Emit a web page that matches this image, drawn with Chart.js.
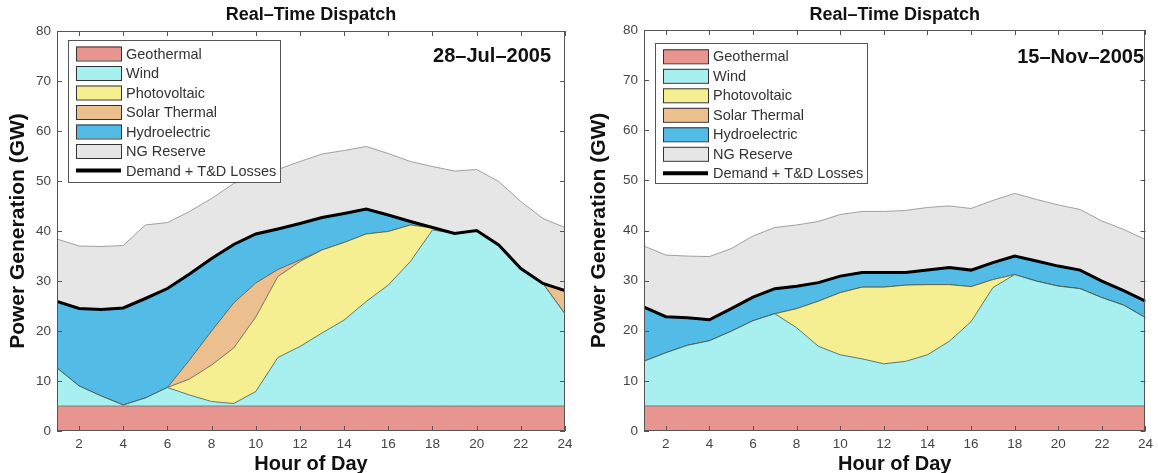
<!DOCTYPE html>
<html>
<head>
<meta charset="utf-8">
<script src="https://cdn.jsdelivr.net/npm/chart.js@4/dist/chart.umd.min.js"></script>
<style>
  body { margin: 0; background: #fff; }
  canvas { position: absolute; top: 0; }
</style>
</head>
<body>
<canvas id="julChart" width="580" height="473" style="left:0"></canvas>
<canvas id="novChart" width="578" height="473" style="left:580px"></canvas>
<script>
// heures de la journée
const hours = [1,2,3,4,5,6,7,8,9,10,11,12,13,14,15,16,17,18,19,20,21,22,23,24];
const xTicks = [2,4,6,8,10,12,14,16,18,20,22,24];
const yTicks = [0,10,20,30,40,50,60,70,80];

const seriesNames = ['Geothermal','Wind','Photovoltaic','Solar Thermal','Hydroelectric','NG Reserve'];
const demandName = 'Demand + T&D Losses';

// 28-Jul-2005 : limites supérieures cumulées (GW)
const julGeo   = [5,5,5,5,5,5,5,5,5,5,5,5,5,5,5,5,5,5,5,5,5,5,5,5];
const julWind  = [12.6,9,7,5.2,6.6,8.7,7.2,5.9,5.5,7.9,14.7,16.9,19.6,22.2,25.9,29.2,33.9,40.2,39.5,40.1,37.2,32.5,29.5,23.4];
const julPV    = [12.6,9,7,5.2,6.6,8.7,10.4,13.2,16.6,22.8,30.9,33.9,36.2,37.7,39.4,39.9,41.2,40.6,39.5,40.1,37.2,32.5,29.5,23.4];
const julSolar = [12.6,9,7,5.2,6.6,8.7,14.2,20,25.6,29.6,32.3,34.2,36.2,37.7,39.4,39.9,41.2,40.6,39.5,40.1,37.2,32.5,29.5,28.1];
const julDemand = [25.9,24.5,24.3,24.6,26.5,28.5,31.4,34.5,37.3,39.4,40.4,41.5,42.7,43.5,44.4,43.2,41.9,40.7,39.5,40.1,37.2,32.5,29.5,28.1];
const julNG    = [38.4,37,36.9,37.1,41.2,41.7,43.9,46.5,49.5,51,52.3,53.9,55.4,56.1,56.9,55.5,53.9,52.9,52,52.3,49.9,45.9,42.5,40.7];

// 15-Nov-2005
const novGeo   = [5,5,5,5,5,5,5,5,5,5,5,5,5,5,5,5,5,5,5,5,5,5,5,5];
const novWind  = [13.9,15.6,17.1,18,19.9,22,23.4,20.6,16.9,15.2,14.4,13.4,13.9,15.2,17.9,21.8,28.6,31.2,29.9,28.9,28.4,26.6,25.1,22.6];
const novPV    = [13.9,15.6,17.1,18,19.9,22,23.4,24.4,25.9,27.6,28.7,28.7,29.1,29.2,29.2,28.8,30.2,31.2,29.9,28.9,28.4,26.6,25.1,22.6];
const novSolar = novPV;
const novDemand = [24.7,22.8,22.6,22.2,24.4,26.7,28.4,28.9,29.6,30.9,31.6,31.6,31.6,32.1,32.6,32.1,33.6,34.9,33.9,32.9,32.1,29.9,28,25.9];
const novNG    = [36.9,35.1,34.9,34.8,36.4,38.9,40.6,41.1,41.8,43.2,43.8,43.8,44,44.6,44.9,44.4,46,47.4,46.2,45.1,44.2,41.9,40.2,38.2];

const fillColors = ['#e8948f','#a8f0f0','#f5ef92','#ecbf8e','#52bbe6','#e6e6e6'];
const edgeColors = ['#6a6a6a','#3c5a5a','#5a5a3c','#5a4a3a','#1f4a5e','#8c8c8c'];
const fontName = '"Liberation Sans", Arial, Helvetica, sans-serif';

// cadre façon MATLAB + titre + légende + date
const framePlugin = {
    id: 'frame',
    afterDatasetsDraw(chart, args, opts) {
        const { ctx, chartArea: a, scales: { x, y } } = chart;
        ctx.save();
        ctx.strokeStyle = '#555';
        ctx.lineWidth = 1;
        ctx.strokeRect(Math.round(a.left) + 0.5, Math.round(a.top) + 0.5, Math.round(a.width) - 1, Math.round(a.height) - 1);
        ctx.beginPath();
        xTicks.forEach(v => {
            const px = Math.round(x.getPixelForValue(v)) + 0.5;
            ctx.moveTo(px, a.bottom); ctx.lineTo(px, a.bottom - 5);
            ctx.moveTo(px, a.top); ctx.lineTo(px, a.top + 5);
        });
        yTicks.forEach(v => {
            const py = Math.round(y.getPixelForValue(v)) + 0.5;
            ctx.moveTo(a.left, py); ctx.lineTo(a.left + 5, py);
            ctx.moveTo(a.right, py); ctx.lineTo(a.right - 5, py);
        });
        ctx.stroke();

        // titre centré sur la zone du graphique
        ctx.font = 'bold 18px ' + fontName;
        ctx.fillStyle = '#111';
        ctx.textAlign = 'center';
        ctx.textBaseline = 'middle';
        ctx.fillText('Real\u2013Time Dispatch', (a.left + a.right) / 2, opts.titleY);

        // légende
        const L = opts.legend;
        ctx.fillStyle = '#fff';
        ctx.fillRect(L.x, L.y, L.w, L.h);
        ctx.strokeStyle = '#555';
        ctx.strokeRect(L.x + 0.5, L.y + 0.5, L.w, L.h);
        ctx.font = '14.5px ' + fontName;
        ctx.textAlign = 'left';
        const labels = seriesNames.concat([demandName]);
        labels.forEach((name, i) => {
            const cy = L.row0 + i * L.gap;
            if (i < seriesNames.length) {
                ctx.fillStyle = fillColors[i];
                ctx.fillRect(L.sx, cy - 7, L.sw, 14);
                ctx.strokeStyle = '#333';
                ctx.strokeRect(L.sx + 0.5, cy - 7 + 0.5, L.sw, 14);
            } else {
                ctx.strokeStyle = '#000';
                ctx.lineWidth = 4;
                ctx.beginPath();
                ctx.moveTo(L.sx, cy); ctx.lineTo(L.sx + L.sw, cy);
                ctx.stroke();
                ctx.lineWidth = 1;
            }
            ctx.fillStyle = '#333';
            ctx.fillText(name, L.tx, cy + 1);
        });

        // date
        ctx.font = 'bold 20px ' + fontName;
        ctx.fillStyle = '#111';
        ctx.textAlign = 'right';
        ctx.fillText(opts.date.text, opts.date.x, opts.date.y);
        ctx.restore();
    }
};

function createChart(id, tops, demand, opts) {
    const ctx = document.getElementById(id).getContext('2d');
    const datasets = tops.map((d, i) => ({
        label: seriesNames[i],
        data: d,
        backgroundColor: fillColors[i],
        borderColor: edgeColors[i],
        borderWidth: 0.8,
        fill: i === 0 ? 'origin' : '-1',
        pointRadius: 0,
        tension: 0,
        order: 1
    }));
    datasets.push({
        label: demandName,
        data: demand,
        borderColor: '#000',
        borderWidth: 3,
        fill: false,
        pointRadius: 0,
        tension: 0,
        order: 0
    });

    return new Chart(ctx, {
        type: 'line',
        data: { labels: hours, datasets: datasets },
        options: {
            responsive: false,
            animation: false,
            layout: { padding: { left: 0, right: opts.padRight, top: opts.padTop, bottom: 0 } },
            plugins: {
                legend: { display: false },
                tooltip: { enabled: false },
                title: { display: false },
                frame: { legend: opts.legend, date: opts.date, titleY: opts.titleY }
            },
            scales: {
                x: {
                    type: 'linear',
                    min: 1, max: 24,
                    afterFit: s => { s.height = 42; },
                    grid: { display: false, drawTicks: false },
                    border: { display: false },
                    ticks: {
                        stepSize: 2,
                        color: '#444',
                        padding: 5,
                        maxRotation: 0,
                        font: { family: fontName, size: 13.5 },
                        callback: v => (v % 2 === 0 ? v : '')
                    },
                    title: {
                        display: true,
                        text: 'Hour of Day',
                        color: '#111',
                        padding: { top: 0, bottom: -3 },
                        font: { family: fontName, size: 20, weight: 'bold' }
                    }
                },
                y: {
                    min: 0, max: 80,
                    afterFit: s => { s.width = opts.yWidth; },
                    grid: { display: false, drawTicks: false },
                    border: { display: false },
                    ticks: {
                        stepSize: 10,
                        color: '#444',
                        padding: 6,
                        font: { family: fontName, size: 13.5 }
                    },
                    title: {
                        display: true,
                        text: 'Power Generation (GW)',
                        color: '#111',
                        padding: { top: opts.yTitlePad, bottom: 0 },
                        font: { family: fontName, size: 21, weight: 'bold' }
                    }
                }
            }
        },
        plugins: [framePlugin]
    });
}

createChart('julChart', [julGeo, julWind, julPV, julSolar, julDemand, julNG], julDemand, {
    padRight: 15, padTop: 31, yWidth: 57, yTitlePad: 6, titleY: 15,
    legend: { x: 68, y: 40, w: 212, h: 142, row0: 53.5, gap: 19.5, sx: 76, sw: 45, tx: 126 },
    date: { text: '28\u2013Jul\u20132005', x: 551, y: 56 }
});

createChart('novChart', [novGeo, novWind, novPV, novSolar, novDemand, novNG], novDemand, {
    padRight: 12, padTop: 30, yWidth: 64, yTitlePad: 7, titleY: 15,
    legend: { x: 75, y: 43, w: 212, h: 140, row0: 56.3, gap: 19.5, sx: 83, sw: 45, tx: 133 },
    date: { text: '15\u2013Nov\u20132005', x: 564, y: 57 }
});
</script>
</body>
</html>
